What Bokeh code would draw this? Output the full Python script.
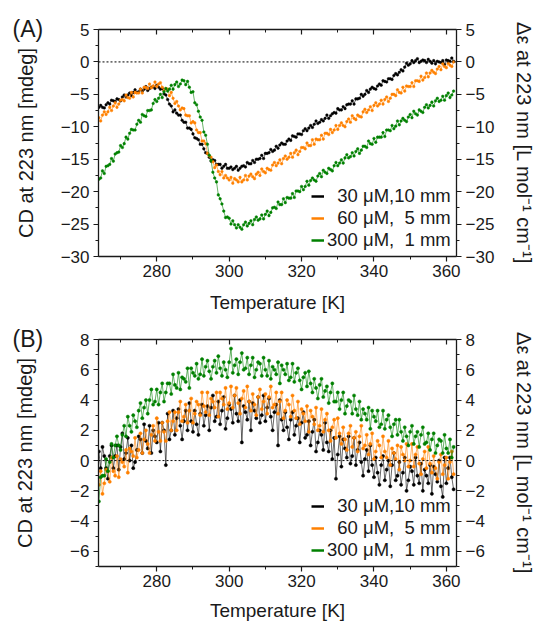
from bokeh.plotting import figure
from bokeh.models import (LinearAxis, SingleIntervalTicker, Range1d, Span, Legend,
                          LegendItem, ColumnDataSource)
from bokeh.layouts import column
from bokeh.embed import file_html
from bokeh.resources import INLINE

# ---------------- data ----------------
temps = [264 + 0.5 * i for i in range(197)]   # temperature grid [K], 264.0 ... 362.0

series_labels = ["\u200730 \u03bcM,10 mm", "\u200760 \u03bcM,\u20075 mm", "300 \u03bcM,\u20071 mm"]
series_colors = ["#000000", "#ff8000", "#008000"]

# Panel (A): CD at 223 nm [mdeg]
a_30uM = [-7.0, -6.7, -7.0, -7.1, -6.6, -6.3, -6.5, -5.9, -6.0, -6.1,
          -5.7, -5.8, -6.0, -5.4, -5.1, -5.4, -5.1, -4.8, -5.2, -4.7,
          -4.3, -4.7, -4.6, -4.2, -4.5, -4.2, -3.8, -4.4, -4.1, -3.9,
          -3.8, -4.1, -3.6, -3.9, -4.2, -4.1, -4.9, -5.1, -5.8, -6.5,
          -6.8, -7.7, -7.4, -7.9, -8.2, -8.2, -9.0, -9.3, -9.3, -10.2,
          -10.2, -10.4, -11.1, -11.7, -11.8, -12.0, -12.7, -12.7, -13.4, -14.0,
          -14.1, -14.7, -15.3, -15.1, -15.2, -15.8, -15.8, -15.8, -16.4, -16.1,
          -15.8, -16.4, -16.4, -16.2, -16.6, -16.4, -16.1, -16.7, -16.4, -16.1,
          -16.0, -16.2, -15.5, -15.7, -15.7, -15.2, -15.5, -15.0, -15.0, -14.9,
          -14.4, -14.9, -14.1, -14.1, -14.0, -13.5, -13.8, -13.6, -13.0, -13.3,
          -12.8, -12.5, -12.7, -12.7, -12.2, -11.9, -12.1, -11.4, -11.5, -11.6,
          -11.1, -11.1, -11.2, -10.6, -10.3, -10.6, -10.2, -9.8, -10.1, -9.6,
          -9.1, -9.5, -9.3, -8.9, -9.1, -8.7, -8.2, -8.7, -8.3, -8.0,
          -7.8, -7.9, -7.2, -7.4, -7.4, -6.9, -7.2, -6.6, -6.5, -6.5,
          -6.0, -6.5, -5.7, -5.7, -5.6, -5.0, -5.3, -5.0, -4.4, -4.7,
          -4.2, -3.9, -4.1, -4.2, -3.7, -3.4, -3.6, -2.9, -3.0, -3.1,
          -2.6, -2.6, -2.7, -2.1, -1.8, -2.0, -1.6, -1.2, -1.4, -0.8,
          -0.2, -0.5, -0.3, 0.2, -0.1, 0.2, 0.5, -0.1, 0.1, 0.3,
          0.2, -0.1, 0.4, 0.1, -0.2, 0.2, -0.3, 0.1, 0.0, -0.1,
          0.2, -0.4, 0.3, 0.2, 0.1, 0.6, 0.1]

a_60uM = [-8.6, -9.1, -8.2, -7.7, -8.1, -7.7, -7.0, -7.5, -6.8, -6.3,
          -7.0, -6.5, -5.9, -5.8, -6.0, -5.1, -5.5, -5.6, -4.7, -5.4,
          -4.7, -4.8, -4.8, -4.2, -4.8, -3.9, -3.9, -4.1, -3.4, -4.0,
          -3.7, -3.1, -3.8, -3.4, -3.2, -3.9, -4.4, -4.1, -4.2, -5.2,
          -4.7, -5.6, -6.4, -6.1, -6.8, -7.4, -7.1, -7.2, -8.2, -8.3,
          -8.3, -9.4, -9.2, -9.4, -10.5, -10.9, -10.9, -12.2, -12.2, -12.6,
          -14.1, -14.5, -14.7, -15.4, -16.3, -15.9, -16.9, -17.4, -16.9, -17.9,
          -17.5, -17.9, -18.2, -17.8, -18.7, -18.0, -18.2, -18.5, -17.8, -18.5,
          -18.2, -17.5, -18.2, -17.6, -17.3, -17.7, -18.0, -17.3, -17.0, -17.5,
          -16.5, -16.9, -17.1, -16.4, -16.6, -16.7, -15.9, -15.5, -16.0, -15.6,
          -15.1, -15.7, -14.9, -14.5, -15.0, -14.7, -14.1, -14.7, -14.0, -13.6,
          -14.3, -13.8, -13.2, -13.2, -13.4, -12.5, -12.9, -12.9, -12.0, -12.7,
          -11.9, -12.0, -12.0, -11.3, -11.9, -11.0, -11.0, -11.2, -10.4, -10.9,
          -10.5, -9.8, -10.4, -9.8, -9.4, -9.8, -10.0, -9.2, -8.8, -9.3,
          -8.3, -8.7, -8.9, -8.2, -8.4, -8.5, -7.7, -7.3, -7.8, -7.4,
          -6.9, -7.5, -6.7, -6.3, -6.8, -6.5, -5.9, -6.5, -5.8, -5.4,
          -6.1, -5.6, -5.0, -5.0, -5.2, -4.3, -4.7, -4.8, -3.9, -4.5,
          -3.7, -3.8, -3.8, -3.2, -3.8, -2.9, -2.9, -3.0, -2.2, -2.8,
          -2.4, -1.7, -2.3, -1.7, -1.3, -1.6, -1.8, -1.1, -0.7, -1.2,
          -0.3, -0.7, -0.9, -0.2, -0.5, -0.7, 0.0]

a_300uM = [-18.1, -17.9, -16.8, -17.2, -16.1, -16.0, -15.8, -14.9, -15.3, -14.2,
           -14.0, -13.9, -12.9, -13.2, -12.6, -11.6, -11.9, -11.0, -10.4, -10.5,
           -10.5, -9.6, -9.0, -9.3, -8.1, -8.3, -8.4, -7.5, -7.5, -7.4,
           -6.4, -5.8, -6.1, -5.6, -5.0, -5.5, -4.6, -4.1, -4.5, -4.2,
           -3.6, -4.2, -3.5, -3.1, -3.8, -3.4, -2.8, -2.9, -3.5, -3.0,
           -3.9, -4.7, -4.6, -6.3, -6.6, -7.6, -8.5, -9.0, -10.8, -11.3,
           -12.7, -14.4, -15.2, -17.0, -17.9, -18.5, -20.5, -21.1, -21.9, -23.0,
           -24.0, -23.9, -24.1, -25.0, -24.5, -25.1, -25.6, -25.1, -25.5, -25.8,
           -25.1, -24.7, -25.3, -24.9, -24.5, -25.1, -24.3, -23.9, -24.4, -24.2,
           -23.6, -24.2, -23.5, -23.0, -23.7, -23.2, -22.5, -22.4, -22.6, -21.6,
           -22.0, -22.0, -21.1, -21.7, -20.9, -21.0, -21.0, -20.3, -20.9, -19.9,
           -19.9, -20.0, -19.2, -19.7, -19.2, -18.4, -19.0, -18.3, -17.9, -18.2,
           -18.4, -17.6, -17.2, -17.7, -16.7, -17.0, -17.2, -16.4, -16.6, -16.8,
           -16.0, -15.5, -16.0, -15.6, -15.1, -15.6, -14.8, -14.3, -14.8, -14.6,
           -14.0, -14.5, -13.8, -13.4, -14.1, -13.6, -13.0, -13.0, -13.2, -12.2,
           -12.6, -12.7, -11.8, -12.4, -11.6, -11.6, -11.6, -10.9, -11.5, -10.5,
           -10.5, -10.6, -9.8, -10.3, -9.9, -9.1, -9.7, -9.1, -8.7, -9.0,
           -9.2, -8.5, -8.1, -8.6, -7.6, -8.0, -8.2, -7.4, -7.6, -7.8,
           -7.0, -6.6, -7.1, -6.7, -6.2, -6.8, -6.0, -5.6, -6.1, -5.9,
           -5.3, -5.9, -5.2, -4.8, -5.5, -5.1, -4.5]

# Panel (B): CD at 223 nm [mdeg]
b_30uM = [0.6, -0.5, 0.9, 0.3, -0.5, -1.2, 0.3, 1.0, -0.5, 0.3,
          1.0, -0.6, 0.9, 1.8, 0.1, 0.5, 1.5, 0.0, 1.0, -0.5,
          -0.1, 0.7, 1.6, 1.4, 0.5, 2.4, 1.3, 0.8, 2.3, 0.5,
          2.0, 1.6, 1.2, 2.5, 0.6, 2.5, 2.0, -0.3, 3.1, 1.4,
          2.0, 3.3, 1.7, 2.8, 3.4, 2.3, 1.4, 2.6, 3.3, 2.0,
          3.8, 2.6, 1.9, 3.3, 2.4, 1.7, 3.1, 3.7, 2.3, 3.0,
          3.6, 2.0, 3.5, 4.3, 2.6, 2.9, 3.9, 2.4, 3.3, 4.2,
          2.1, 2.8, 3.7, 3.4, 2.5, 4.3, 3.1, 2.6, 4.0, 1.2,
          3.6, 3.2, 2.7, 3.9, 2.0, 3.8, 3.3, 2.8, 4.2, 2.5,
          3.0, 4.3, 2.6, 3.5, 4.1, 2.9, 2.0, 3.2, 3.7, 1.0,
          4.0, 2.7, 2.0, 3.2, 2.2, 1.4, 2.7, 3.2, 1.7, 2.3,
          2.8, 1.2, 2.5, 3.2, 1.5, 1.7, 2.6, 1.0, 1.9, 2.7,
          0.6, 1.2, 2.0, 1.7, 0.7, 2.5, 1.2, 0.6, 2.0, 0.1,
          1.5, -1.2, 0.4, 1.6, -0.4, 1.4, 0.8, 0.2, 1.6, -0.2,
          0.3, 1.5, -0.3, 0.7, 1.2, -0.1, -1.0, 0.1, 0.7, -0.7,
          1.0, -0.3, -1.1, 0.2, -0.8, -1.6, -0.3, 0.3, -1.3, -0.6,
          0.0, -1.7, -0.3, 0.5, -1.3, -1.0, -0.1, -1.6, -0.8, 0.2,
          -2.0, -1.3, -0.4, -0.7, -1.6, 0.2, -1.0, -1.5, -0.2, -2.0,
          -0.6, -1.0, -1.5, -0.3, -2.2, -0.4, -0.9, -1.4, 0.0, -1.7,
          -2.4, 0.2, -1.5, -0.5, 0.2, -1.1, -1.9]

b_60uM = [-1.6, -0.7, -2.2, -1.5, -0.6, -0.7, -1.4, 0.2, -0.7, -1.0,
          0.3, -1.1, 0.1, -0.1, -0.4, 0.7, -0.8, 0.8, 0.6, 0.3,
          1.5, 0.2, 0.7, 1.8, 0.5, 1.4, 2.0, 1.1, 0.5, 1.7,
          2.3, 1.3, 2.8, 1.9, 1.3, 2.5, 1.9, 1.3, 2.6, 3.2,
          2.0, 2.6, 3.2, 2.0, 3.2, 3.9, 2.6, 2.9, 3.7, 2.5,
          3.3, 4.1, 2.5, 3.1, 3.9, 3.7, 3.0, 4.5, 3.6, 3.2,
          4.5, 3.0, 4.1, 3.9, 3.5, 4.5, 2.9, 4.5, 4.1, 3.7,
          4.8, 3.4, 3.8, 4.9, 3.5, 4.3, 4.8, 3.8, 3.1, 4.1,
          4.6, 3.5, 4.9, 3.9, 3.3, 4.4, 3.7, 3.0, 4.2, 4.7,
          3.4, 3.9, 4.4, 3.1, 4.2, 4.9, 3.5, 3.7, 4.5, 3.1,
          3.9, 4.5, 2.8, 3.3, 4.0, 3.7, 2.9, 4.3, 3.3, 2.8,
          3.9, 2.4, 3.4, 3.1, 2.6, 3.6, 1.9, 3.3, 2.9, 2.4,
          3.5, 2.0, 2.3, 3.4, 1.9, 2.7, 3.1, 2.0, 1.3, 2.2,
          2.7, 1.5, 2.8, 1.8, 1.1, 2.2, 1.4, 0.7, 1.8, 2.3,
          0.9, 1.5, 1.9, 0.6, 1.6, 2.3, 0.8, 1.0, 1.7, 0.4,
          1.1, 1.8, 0.1, 0.6, 1.3, 1.0, 0.2, 1.6, 0.6, 0.2,
          1.3, -0.3, 0.8, 0.5, 0.1, 1.0, -0.6, 0.9, 0.4, 0.0,
          1.1, -0.4, 0.0, 1.1, -0.4, 0.4, 0.9, -0.2, -0.9, 0.1,
          0.6, -0.5, 0.9, -0.2, -0.8, 0.3, -0.5, -1.2, -0.1, 0.4,
          -0.9, -0.3, 0.2, -1.2, -0.1, 0.6, -0.9]

b_300uM = [-2.7, -1.1, -1.0, -1.0, 0.1, -0.7, -0.1, 1.1, 0.2, 1.0,
           1.6, 1.0, 0.7, 1.7, 2.3, 1.6, 2.9, 2.3, 1.9, 3.0,
           2.6, 2.2, 3.3, 3.8, 2.8, 3.5, 4.0, 3.1, 4.0, 4.7,
           3.7, 3.9, 4.7, 3.7, 4.5, 5.1, 3.9, 4.5, 5.1, 5.1,
           4.4, 5.7, 5.0, 4.8, 5.8, 4.7, 5.5, 5.4, 5.2, 6.1,
           4.8, 6.1, 5.8, 5.6, 6.4, 5.4, 5.7, 6.7, 5.6, 6.2,
           6.6, 5.9, 5.4, 6.2, 6.6, 5.8, 6.9, 6.1, 5.6, 6.5,
           6.0, 5.5, 6.5, 7.4, 5.8, 6.3, 6.7, 5.7, 6.5, 7.1,
           6.0, 6.1, 6.8, 5.7, 6.3, 6.8, 5.5, 6.0, 6.5, 6.4,
           5.6, 6.8, 6.0, 5.6, 6.6, 5.4, 6.2, 6.0, 5.7, 6.5,
           5.1, 6.3, 6.0, 5.7, 6.4, 5.3, 5.5, 6.4, 5.2, 5.8,
           6.1, 5.3, 4.7, 5.5, 5.8, 4.9, 5.9, 5.1, 4.5, 5.4,
           4.8, 4.1, 5.0, 5.4, 4.2, 4.6, 4.9, 3.8, 4.5, 5.1,
           3.9, 3.9, 4.5, 3.4, 4.0, 4.5, 3.1, 3.6, 4.0, 3.9,
           3.1, 4.3, 3.4, 3.0, 3.9, 2.7, 3.4, 3.1, 2.7, 3.5,
           2.1, 3.3, 2.9, 2.6, 3.3, 2.2, 2.4, 3.3, 2.1, 2.7,
           3.0, 2.2, 1.6, 2.4, 2.7, 1.7, 2.7, 1.9, 1.3, 2.2,
           1.6, 1.0, 1.9, 2.3, 1.1, 1.6, 1.9, 0.9, 1.7, 2.2,
           1.1, 1.2, 1.8, 0.7, 1.4, 1.8, 0.5, 1.0, 1.4, 1.3,
           0.5, 1.7, 0.8, 0.5, 1.4, 0.2, 0.9]

for _s in (a_30uM, a_60uM, a_300uM, b_30uM, b_60uM, b_300uM):
    assert len(_s) == len(temps), len(_s)

# ---------------- styling ----------------
FONT = "Liberation Sans"
INK = "#1a1a1a"


def style_axis(ax, inward=False, show_labels=True):
    ax.axis_line_color = INK
    ax.axis_line_width = 1.3
    ax.major_tick_line_color = INK
    ax.minor_tick_line_color = INK
    ax.major_tick_line_width = 1.2
    ax.minor_tick_line_width = 1.0
    if inward:
        ax.major_tick_in, ax.major_tick_out = 5, 0
        ax.minor_tick_in, ax.minor_tick_out = 3, 0
    else:
        ax.major_tick_in, ax.major_tick_out = 0, 5
        ax.minor_tick_in, ax.minor_tick_out = 0, 3
    ax.major_label_text_font = FONT
    ax.major_label_text_color = INK
    if show_labels:
        ax.major_label_text_font_size = "17px"
        ax.major_label_standoff = 4
    else:
        ax.major_label_text_font_size = "1px"
        ax.major_label_text_alpha = 0
        ax.major_label_standoff = 0
    ax.axis_label_text_font = FONT
    ax.axis_label_text_font_style = "normal"
    ax.axis_label_text_color = INK


def make_panel(series, y_start, y_end, y_step, height, top, bottom,
               l_std, r_std, b_std, tag, msize):
    p = figure(width=539, height=height, output_backend="svg", toolbar_location=None,
               x_range=Range1d(263.9, 362.8), y_range=Range1d(y_start, y_end),
               x_axis_location=None, y_axis_location=None, title=tag,
               min_border_left=98, min_border_right=83,
               min_border_top=top, min_border_bottom=bottom)
    p.grid.visible = False
    p.outline_line_color = None
    p.background_fill_color = "white"
    p.border_fill_color = "white"

    # panel tag "(A)" / "(B)" in the top-left corner
    p.title.align = "left"
    p.title.vertical_align = "middle"
    p.title.offset = -86
    p.title.standoff = -26
    p.title.text_font = FONT
    p.title.text_font_size = "23px"
    p.title.text_font_style = "normal"
    p.title.text_color = INK

    xt = SingleIntervalTicker(interval=20, num_minor_ticks=2)
    yt = SingleIntervalTicker(interval=y_step, num_minor_ticks=2)

    bottom_ax = LinearAxis(ticker=xt, axis_label="Temperature [K]", axis_label_standoff=b_std)
    style_axis(bottom_ax)
    bottom_ax.major_label_standoff = 3
    bottom_ax.axis_label_text_font_size = "19px"
    top_ax = LinearAxis(ticker=xt)
    style_axis(top_ax, inward=True, show_labels=False)
    left_ax = LinearAxis(ticker=yt, axis_label="CD at 223 nm [mdeg]", axis_label_standoff=l_std)
    style_axis(left_ax)
    left_ax.axis_label_text_font_size = "20px"
    right_ax = LinearAxis(ticker=yt, axis_label="\u0394\u03b5 at 223 nm [L mol\u207b\u00b9 cm\u207b\u00b9]",
                          axis_label_standoff=r_std)
    style_axis(right_ax)
    right_ax.axis_label_text_font_size = "20px"
    p.add_layout(bottom_ax, "below")
    p.add_layout(top_ax, "above")
    p.add_layout(left_ax, "left")
    p.add_layout(right_ax, "right")

    p.add_layout(Span(location=0, dimension="width", line_color="black",
                      line_width=1, line_dash="2 2"))

    items = []
    for vals, col, lab in zip(series, series_colors, series_labels):
        src = ColumnDataSource(dict(t=temps, v=vals))
        p.line("t", "v", source=src, line_color=col, line_width=0.7, line_alpha=0.85)
        p.scatter("t", "v", source=src, size=msize, marker="circle",
                  fill_color=col, line_color=col, line_width=0.5)
        # legend key: a thick short line (one-point renderer, draws nothing in the frame)
        key = p.line(temps[:1], vals[:1], line_color=col, line_width=2.5)
        items.append(LegendItem(label=lab, renderers=[key]))

    legend = Legend(items=items, location=(213, 5),
                    background_fill_alpha=0, border_line_alpha=0,
                    label_text_font=FONT, label_text_font_size="18.5px",
                    label_text_color=INK, glyph_width=13, glyph_height=16,
                    label_height=16, label_standoff=3, spacing=-5,
                    padding=0, margin=0)
    p.add_layout(legend)
    return p


pA = make_panel([a_30uM, a_60uM, a_300uM], -30, 5, 5, 318, 29, 62, 21, 16, 12, "(A)", 2.6)
pB = make_panel([b_30uM, b_60uM, b_300uM], -7, 8, 2, 307, 21, 59, 31, 25, 10, "(B)", 3.2)

layout = column(pA, pB, spacing=0)
open("out.html", "w").write(file_html(layout, INLINE))
